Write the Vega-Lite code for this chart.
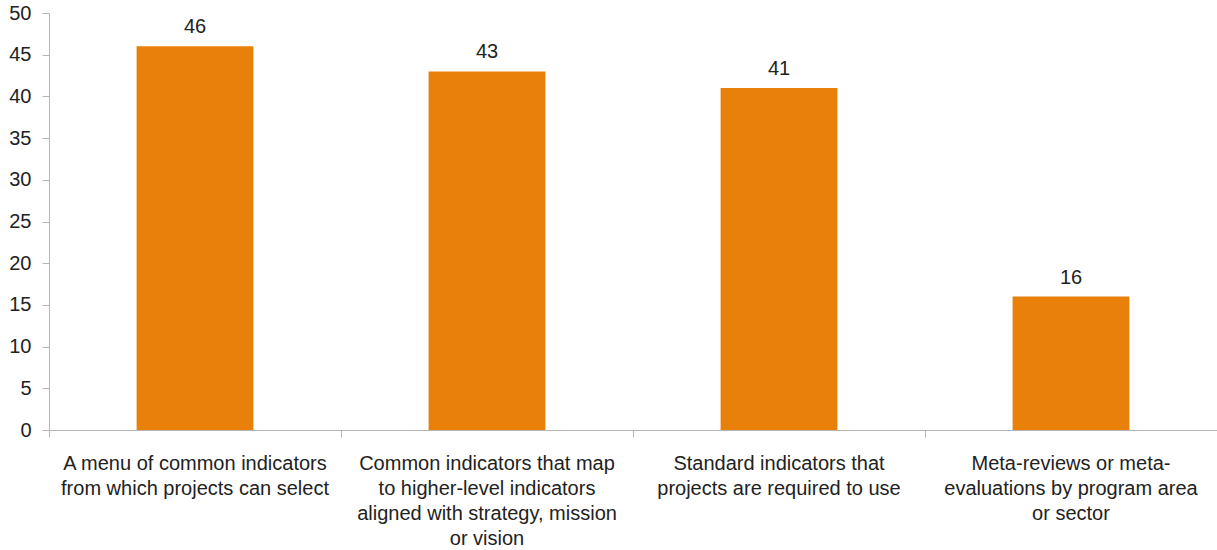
{
  "$schema": "https://vega.github.io/schema/vega-lite/v6.json",
  "width": 1168,
  "height": 417,
  "autosize": {"type": "none"},
  "padding": {"left": 49, "top": 13, "right": 0, "bottom": 120},
  "background": "white",
  "config": {
    "view": {"stroke": null},
    "font": "Liberation Sans",
    "axis": {
      "domainColor": "#b5b5b5",
      "tickColor": "#b5b5b5",
      "labelColor": "#222222",
      "labelFont": "Liberation Sans",
      "labelFontSize": 20,
      "grid": false,
      "title": null
    }
  },
  "data": {
    "values": [
      {"indicator": "A menu of common indicators|from which projects can select", "count": 46},
      {"indicator": "Common indicators that map|to higher-level indicators|aligned with strategy, mission|or vision", "count": 43},
      {"indicator": "Standard indicators that|projects are required to use", "count": 41},
      {"indicator": "Meta-reviews or meta-|evaluations by program area|or sector", "count": 16}
    ]
  },
  "encoding": {
    "x": {
      "field": "indicator",
      "type": "nominal",
      "sort": null,
      "scale": {"paddingInner": 0, "paddingOuter": 0},
      "axis": {
        "labelAngle": 0,
        "labelExpr": "split(datum.label, '|')",
        "labelLineHeight": 25,
        "labelBaseline": "top",
        "labelPadding": 16,
        "labelFontSize": 20,
        "bandPosition": 0,
        "tickSize": 7,
        "labelLimit": 0
      }
    },
    "y": {
      "field": "count",
      "type": "quantitative",
      "scale": {"domain": [0, 50], "nice": false},
      "axis": {"values": [0, 5, 10, 15, 20, 25, 30, 35, 40, 45, 50], "tickSize": 7, "labelPadding": 11, "labelFontSize": 20}
    }
  },
  "layer": [
    {"mark": {"type": "bar", "color": "#E8800A", "width": {"band": 0.4}}},
    {
      "mark": {"type": "text", "baseline": "bottom", "dy": -9, "fontSize": 20, "color": "#222222"},
      "encoding": {"text": {"field": "count", "type": "quantitative"}}
    }
  ]
}
